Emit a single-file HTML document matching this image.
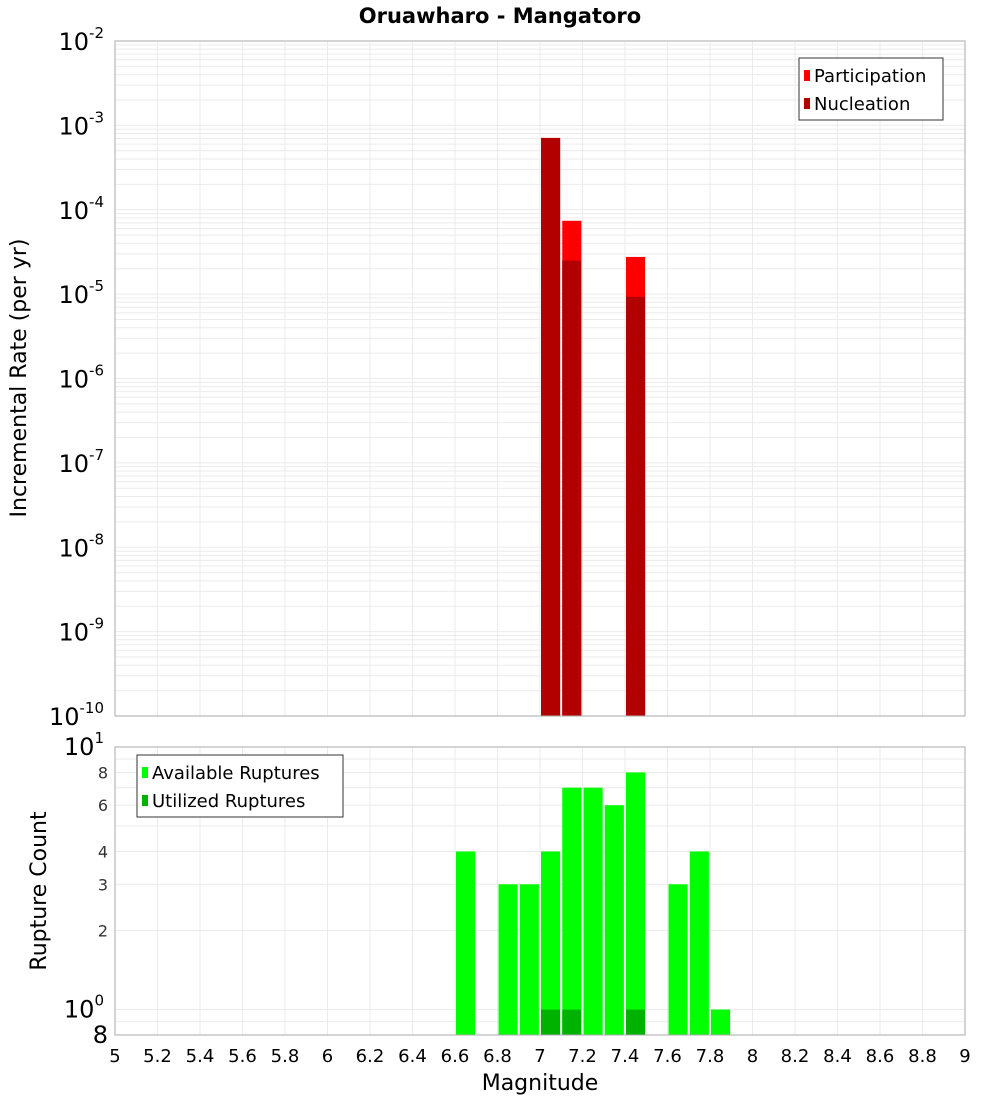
<!DOCTYPE html>
<html><head><meta charset="utf-8"><style>
body{margin:0;background:#fff;font-family:"Liberation Sans","DejaVu Sans",sans-serif}
svg text{font-family:"DejaVu Sans","Liberation Sans",sans-serif}
</style></head><body>
<svg id="c" width="1000" height="1100" xmlns="http://www.w3.org/2000/svg">
<text x="500" y="23" text-anchor="middle" font-size="21" font-weight="bold">Oruawharo - Mangatoro</text>
<g id="topPlot"></g>
<g id="botPlot"></g>
<text transform="translate(26,378) rotate(-90)" text-anchor="middle" font-size="22">Incremental Rate (per yr)</text>
<text transform="translate(46,891) rotate(-90)" text-anchor="middle" font-size="22">Rupture Count</text>
<text x="540" y="1090" text-anchor="middle" font-size="22">Magnitude</text>
</svg>
<script>
const mags=[7.05,7.15,7.45];
const participation=[7.1e-4,7.4e-5,2.76e-5];
const nucleation=[7.1e-4,2.5e-5,9.3e-6];
const countMags=[6.65,6.85,6.95,7.05,7.15,7.25,7.35,7.45,7.65,7.75,7.85];
const available=[4,3,3,4,7,7,6,8,3,4,1];
const utilMags=[7.05,7.15,7.45];
const utilized=[1,1,1];
const xTicks=["5","5.2","5.4","5.6","5.8","6","6.2","6.4","6.6","6.8","7","7.2","7.4","7.6","7.8","8","8.2","8.4","8.6","8.8","9"];
const topExp=[-2,-3,-4,-5,-6,-7,-8,-9,-10];
const botTicks=[2,3,4,6,8];

const NS="http://www.w3.org/2000/svg";
const L=115,R=965;
const x=m=>L+(m-5)/4*(R-L);
const T0=41,T1=716;
const yT=v=>T0+(-2-Math.log10(v))/8*(T1-T0);
const B0=747,B1=1035;
const yB=v=>B0+(1-Math.log10(v))/(1-Math.log10(0.8))*(B1-B0);
function mk(p,t,a){const e=document.createElementNS(NS,t);for(const k in a)e.setAttribute(k,a[k]);p.appendChild(e);return e;}
const topG=document.getElementById('topPlot'),botG=document.getElementById('botPlot');
for(let i=0;i<xTicks.length;i++){const xx=x(+xTicks[i]);
 const g1=mk(topG,'line',{x1:xx,x2:xx,y1:T0,y2:T1,stroke:'#ebebeb'});
 
 
 const g2=mk(botG,'line',{x1:xx,x2:xx,y1:B0,y2:B1,stroke:'#ebebeb'});
 
 
 const t=mk(botG,'text',{x:xx,y:1062,'text-anchor':'middle','font-size':18});t.textContent=xTicks[i];
 
 
}
for(let e=-10;e<-2;e++)for(let k=1;k<10;k++){const v=k*Math.pow(10,e);const yy=yT(v);
 const g=mk(topG,'line',{x1:L,x2:R,y1:yy,y2:yy,stroke:'#ebebeb'});
 
 }
for(const v of [0.8,0.9,1,2,3,4,5,6,7,8,9]){const yy=yB(v);
 const g=mk(botG,'line',{x1:L,x2:R,y1:yy,y2:yy,stroke:'#ebebeb'});
 
 }
for(const e of topExp){const yy=yT(Math.pow(10,e));
 const t=mk(topG,'text',{x:104,y:yy+9,'text-anchor':'end','font-size':24});
 t.innerHTML='10<tspan dy="-12" font-size="15">'+e+'</tspan>';
 
 }
const bw=x(5.09)-x(5);
for(let i=0;i<mags.length;i++){
 const xl=x(mags[i]-0.05)+1;
 const p=mk(topG,'rect',{x:xl,y:yT(participation[i]),width:bw,height:T1-yT(participation[i]),fill:'#ff0000'});
 
 
 const n=mk(topG,'rect',{x:xl,y:yT(nucleation[i]),width:bw,height:T1-yT(nucleation[i]),fill:'#b20000'});
 
 
}
mk(topG,'rect',{x:L,y:T0,width:R-L,height:T1-T0,fill:'none',stroke:'#aaa'});
for(let i=0;i<countMags.length;i++){
 const xl=x(countMags[i]-0.05)+1;
 const r=mk(botG,'rect',{x:xl,y:yB(available[i]),width:bw,height:B1-yB(available[i]),fill:'#00ff00'});
 
 }
for(let i=0;i<utilMags.length;i++){
 const xl=x(utilMags[i]-0.05)+1;
 const r=mk(botG,'rect',{x:xl,y:yB(utilized[i]),width:bw,height:B1-yB(utilized[i]),fill:'#00b200'});
 
 }
mk(botG,'rect',{x:L,y:B0,width:R-L,height:B1-B0,fill:'none',stroke:'#aaa'});
for(const v of botTicks){const t=mk(botG,'text',{x:108,y:yB(v)+6,'text-anchor':'end','font-size':16,fill:'#333'});t.textContent=v;
 
 }
let tx=mk(botG,'text',{x:104,y:yB(10)+8,'text-anchor':'end','font-size':24});tx.innerHTML='10<tspan dy="-12" font-size="15">1</tspan>';
tx=mk(botG,'text',{x:104,y:yB(1)+8,'text-anchor':'end','font-size':24});tx.innerHTML='10<tspan dy="-12" font-size="15">0</tspan>';
tx=mk(botG,'text',{x:108,y:B1+8,'text-anchor':'end','font-size':24});tx.textContent='8';
function legend(p,x0,y0,w,items){mk(p,'rect',{x:x0,y:y0,width:w,height:62,fill:'#fff',stroke:'#333'});
 items.forEach((it,i)=>{mk(p,'rect',{x:x0+5,y:y0+12+i*28,width:6,height:11,fill:it[1]});
 const tt=mk(p,'text',{x:x0+15,y:y0+24+i*28,'font-size':18});tt.textContent=it[0];});}
legend(topG,799,58,144,[['Participation','#ff0000'],['Nucleation','#b20000']]);
legend(botG,137,755,206,[['Available Ruptures','#00ff00'],['Utilized Ruptures','#00b200']]);
</script>
</body></html>
